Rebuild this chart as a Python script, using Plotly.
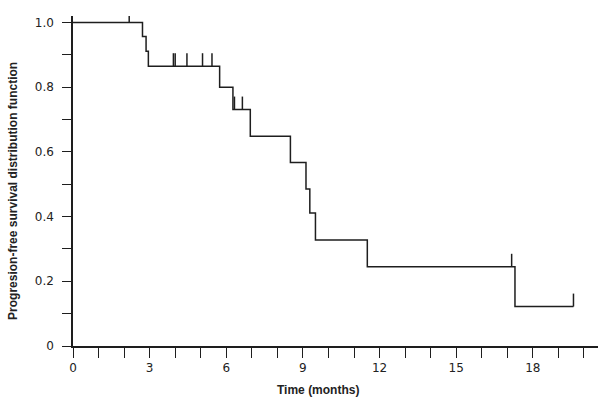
import plotly.graph_objects as go

# Kaplan-Meier style step data (months, survival)
event_times = [0.0, 2.72, 2.86, 2.95, 5.74, 6.26, 6.94, 8.51, 9.12, 9.27, 9.49, 11.52, 17.30]
survival    = [1.0, 0.957, 0.911, 0.865, 0.800, 0.731, 0.648, 0.567, 0.485, 0.411, 0.328, 0.245, 0.122]
end_time = 19.59

censor_times = [2.20, 3.93, 4.00, 4.46, 5.07, 5.44, 6.32, 6.63, 17.17, 19.59]

x_tickvals = list(range(0, 21))
x_ticktext = [str(v) if v % 3 == 0 else "" for v in x_tickvals]
y_tickvals = [i / 10 for i in range(0, 11)]
y_ticktext = ["0", "", "0.2", "", "0.4", "", "0.6", "", "0.8", "", "1.0"]

x_title = "Time (months)"
y_title = "Progresion-free survival distribution function"

CENSOR_LEN = 0.04
LINE_COLOR = "#1e1e1e"


def surv_at(t):
    s = survival[0]
    for et, sv in zip(event_times, survival):
        if et <= t:
            s = sv
    return s


# step line
xs, ys = [], []
for i, (t, s) in enumerate(zip(event_times, survival)):
    if i > 0:
        xs.append(t)
        ys.append(survival[i - 1])
    xs.append(t)
    ys.append(s)
xs.append(end_time)
ys.append(survival[-1])

# censor ticks
cx, cy = [], []
for t in censor_times:
    s = surv_at(t)
    cx += [t, t, None]
    cy += [s, s + CENSOR_LEN, None]

fig = go.Figure()
fig.add_trace(go.Scatter(x=xs, y=ys, mode="lines",
                         line=dict(color=LINE_COLOR, width=1.5),
                         showlegend=False, hoverinfo="skip"))
fig.add_trace(go.Scatter(x=cx, y=cy, mode="lines",
                         line=dict(color=LINE_COLOR, width=1.5),
                         showlegend=False, hoverinfo="skip"))

fig.update_layout(
    width=602, height=407,
    margin=dict(l=73, r=4, t=16, b=61, autoexpand=False),
    paper_bgcolor="white", plot_bgcolor="white",
    font=dict(family="DejaVu Sans", size=12, color="#222222"),
)
fig.update_xaxes(
    range=[0, 20.55], showgrid=False, zeroline=False, automargin=False,
    showline=True, linecolor=LINE_COLOR, linewidth=1.5,
    ticks="outside", ticklen=10, tickwidth=1.3, tickcolor=LINE_COLOR,
    tickvals=x_tickvals, ticktext=x_ticktext, ticklabelstandoff=0,
    tickfont=dict(family="DejaVu Sans", size=12, color="#222222"),
)
fig.update_yaxes(
    range=[0, 1.02], showgrid=False, zeroline=False, automargin=False,
    showline=True, linecolor=LINE_COLOR, linewidth=1.5,
    ticks="outside", ticklen=9, tickwidth=1.3, tickcolor=LINE_COLOR,
    tickvals=y_tickvals, ticktext=y_ticktext, ticklabelstandoff=6,
    tickfont=dict(family="DejaVu Sans", size=12, color="#222222"),
)
fig.add_annotation(text="<b>" + x_title + "</b>", xref="paper", yref="paper",
                   x=0.467, y=0, yshift=-44, xanchor="center", yanchor="middle",
                   showarrow=False,
                   font=dict(family="Liberation Sans", size=12, color="#222222"))
fig.add_annotation(text="<b>" + y_title + "</b>", xref="paper", yref="paper",
                   x=0, xshift=-60, y=0.47, xanchor="center", yanchor="middle",
                   textangle=-90, showarrow=False,
                   font=dict(family="Liberation Sans", size=12, color="#222222"))

fig.write_html("out.html", config={"displayModeBar": False},
               post_script="document.body.style.margin='0';")
